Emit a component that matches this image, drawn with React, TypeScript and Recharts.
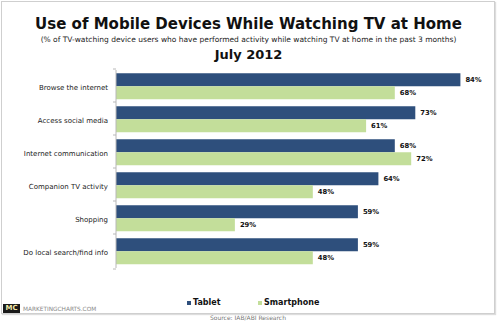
import React from "react";
import { BarChart, Bar, XAxis, YAxis, LabelList, Legend } from "recharts";

const categories = [
  "Browse the internet",
  "Access social media",
  "Internet communication",
  "Companion TV activity",
  "Shopping",
  "Do local search/find info",
];
const tablet = [84, 73, 68, 64, 59, 59];
const smartphone = [68, 61, 72, 48, 29, 48];
const seriesNames = ["Tablet", "Smartphone"];
const colors = ["#2E4F7C", "#C3DE9A"];

const data = categories.map((c, i) => ({ name: c, tablet: tablet[i], smartphone: smartphone[i] }));

const W = 497;
const H = 325;
const M = { top: 70, right: 12, bottom: 45, left: 0 };
const PLOT_H = H - M.top - M.bottom;
const BAND = PLOT_H / categories.length;
const FONT = "'DejaVu Sans', Verdana, sans-serif";

const Tick = (props: any) => {
  const { x, y, payload, index } = props;
  const half = BAND / 2;
  return (
    <g>
      <line x1={x + 5} x2={x + 8} y1={y - half} y2={y - half} stroke="#b8b8b8" />
      {index === categories.length - 1 && (
        <line x1={x + 5} x2={x + 8} y1={y + half} y2={y + half} stroke="#b8b8b8" />
      )}
      <text x={x} y={y} dy={3} textAnchor="end" fontSize={7} fontFamily={FONT} fill="#222">
        {payload.value}
      </text>
    </g>
  );
};

const LegendContent = () => (
  <div style={{ position: "relative", height: 12, fontFamily: FONT, fontSize: 8, fontWeight: "bold", color: "#111" }}>
    {seriesNames.map((n, i) => (
      <div key={n} style={{ position: "absolute", left: i === 0 ? 187 : 258, top: 0, display: "flex", alignItems: "center" }}>
        <span style={{ display: "inline-block", width: 4, height: 4, background: colors[i], marginRight: 2 }} />
        <span>{n}</span>
      </div>
    ))}
  </div>
);

export default function App() {
  return (
    <div style={{ position: "absolute", left: 0, top: 0, width: W, height: H, background: "#fff", overflow: "hidden" }}>
      <div style={{ position: "absolute", left: 1, top: 1, width: 492, height: 311, border: "1px solid #cfcfcf", boxShadow: "1px 1px 1px #ddd" }} />
      <div style={{ position: "absolute", left: 0, top: 17, width: W, textAlign: "center", fontFamily: FONT, fontWeight: "bold", fontSize: 15, lineHeight: "15px", color: "#111" }}>
        Use of Mobile Devices While Watching TV at Home
      </div>
      <div style={{ position: "absolute", left: 0, top: 36, width: W, textAlign: "center", fontFamily: FONT, fontSize: 7.5, lineHeight: "7.5px", color: "#222" }}>
        (% of TV-watching device users who have performed activity while watching TV at home in the past 3 months)
      </div>
      <div style={{ position: "absolute", left: 0, top: 48, width: W, textAlign: "center", fontFamily: FONT, fontWeight: "bold", fontSize: 13, lineHeight: "13px", color: "#111" }}>
        July 2012
      </div>
      <div style={{ position: "absolute", left: 0, top: 0 }}>
        <BarChart layout="vertical" width={W} height={H} data={data} margin={M} barCategoryGap="10%" barGap={0}>
          <XAxis type="number" domain={[0, 90]} hide />
          <YAxis type="category" dataKey="name" width={116} axisLine={{ stroke: "#b8b8b8" }} tickLine={false} tick={<Tick />} interval={0} />
          <Legend verticalAlign="bottom" align="left" wrapperStyle={{ left: 0, top: 298, width: W }} content={<LegendContent />} />
          <Bar dataKey="tablet" name={seriesNames[0]} fill={colors[0]} isAnimationActive={false}>
            <LabelList dataKey="tablet" position="right" offset={5} formatter={(v: any) => `${v}%`} style={{ fontFamily: FONT, fontSize: 6.8, fontWeight: "bold", fill: "#111" }} />
          </Bar>
          <Bar dataKey="smartphone" name={seriesNames[1]} fill={colors[1]} isAnimationActive={false}>
            <LabelList dataKey="smartphone" position="right" offset={5} formatter={(v: any) => `${v}%`} style={{ fontFamily: FONT, fontSize: 6.8, fontWeight: "bold", fill: "#111" }} />
          </Bar>
        </BarChart>
      </div>
      <div style={{ position: "absolute", left: 3, top: 304, width: 17, height: 9, background: "#1a1a1a", color: "#f3e9a8", fontFamily: FONT, fontWeight: "bold", fontSize: 7, lineHeight: "9px", textAlign: "center" }}>
        MC
      </div>
      <div style={{ position: "absolute", left: 23, top: 305, fontFamily: FONT, fontSize: 5.8, color: "#888", lineHeight: "8px" }}>
        MARKETINGCHARTS.COM
      </div>
      <div style={{ position: "absolute", left: 0, top: 314, width: W, fontFamily: FONT, fontSize: 6, color: "#777", lineHeight: "8px" }}>
        <span style={{ position: "absolute", left: 210, top: 0 }}>Source: IAB/ABI Research</span>
      </div>
    </div>
  );
}
